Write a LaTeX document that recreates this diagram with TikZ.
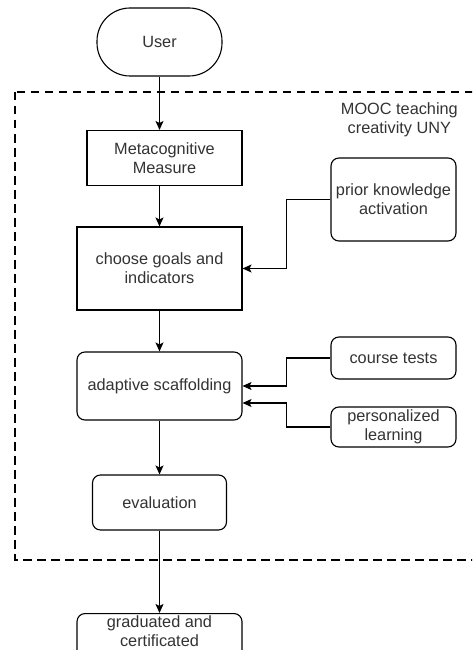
\documentclass[tikz,border=0pt]{standalone}
\usepackage{fontspec}
\setmainfont{Liberation Sans}
\usetikzlibrary{arrows.meta}
\begin{document}
\begin{tikzpicture}[x=1pt,y=-1pt,
  every node/.style={font=\fontsize{16.3}{19.3}\selectfont, text=black!80, align=center, inner sep=0pt},
  box/.style={draw=black, line width=1.1pt, fill=white},
  rbox/.style={box, rounded corners=8pt},
  arr/.style={draw=black, line width=1.1pt, -{Stealth[length=9pt,width=8pt,inset=2pt]}},
  frame/.style={draw=black, line width=2.6pt, dash pattern=on 8.5pt off 5.5pt}]
\useasboundingbox (0,0) rectangle (472,650);
\clip (0,0) rectangle (472,650);
\draw[frame] (15,92) rectangle (490,560);
\node[anchor=north east] (mooc) at (458,102) {MOOC teaching\\creativity UNY};
\node[box, rounded corners=33pt, minimum width=125pt, minimum height=68pt] (user) at (159.5,42) {User};
\node[box, minimum width=155pt, minimum height=55pt] (meta) at (164.5,158) {Metacognitive\\Measure};
\node[box, minimum width=165pt, minimum height=83pt] (goals) at (159.5,268.5) {choose goals and\\indicators};
\node[rbox, minimum width=165pt, minimum height=68pt] (adapt) at (159.5,386) {adaptive scaffolding};
\node[rbox, minimum width=134pt, minimum height=55pt] (eval) at (159.5,502.5) {evaluation};
\node[rbox, minimum width=165pt, minimum height=60pt, anchor=north] (grad) at (159.5,613) {};
\node (gradtxt) at (159.5,631) {graduated and\\certificated};
\node[rbox, minimum width=125pt, minimum height=83pt] (prior) at (393.5,199.5) {prior knowledge\\activation};
\node[rbox, minimum width=125pt, minimum height=42pt] (course) at (393.5,358) {course tests};
\node[rbox, minimum width=125pt, minimum height=40pt] (pers) at (393.5,427) {personalized\\learning};
\draw[arr] (user.south) -- (user.south |- meta.north);
\draw[arr] (meta.south -| goals.north) -- (goals.north);
\draw[arr] (goals.south) -- (adapt.north);
\draw[arr] (adapt.south) -- (eval.north);
\draw[arr] (eval.south) -- (grad.north);
\draw[arr] (prior.west) -- ++(-44,0) |- (goals.east);
\draw[arr] (course.west) -- ++(-44,0) |- (adapt.east);
\draw[arr] (pers.west) -- ++(-44,0) |- ([yshift=-17pt]adapt.east);
\end{tikzpicture}
\end{document}
